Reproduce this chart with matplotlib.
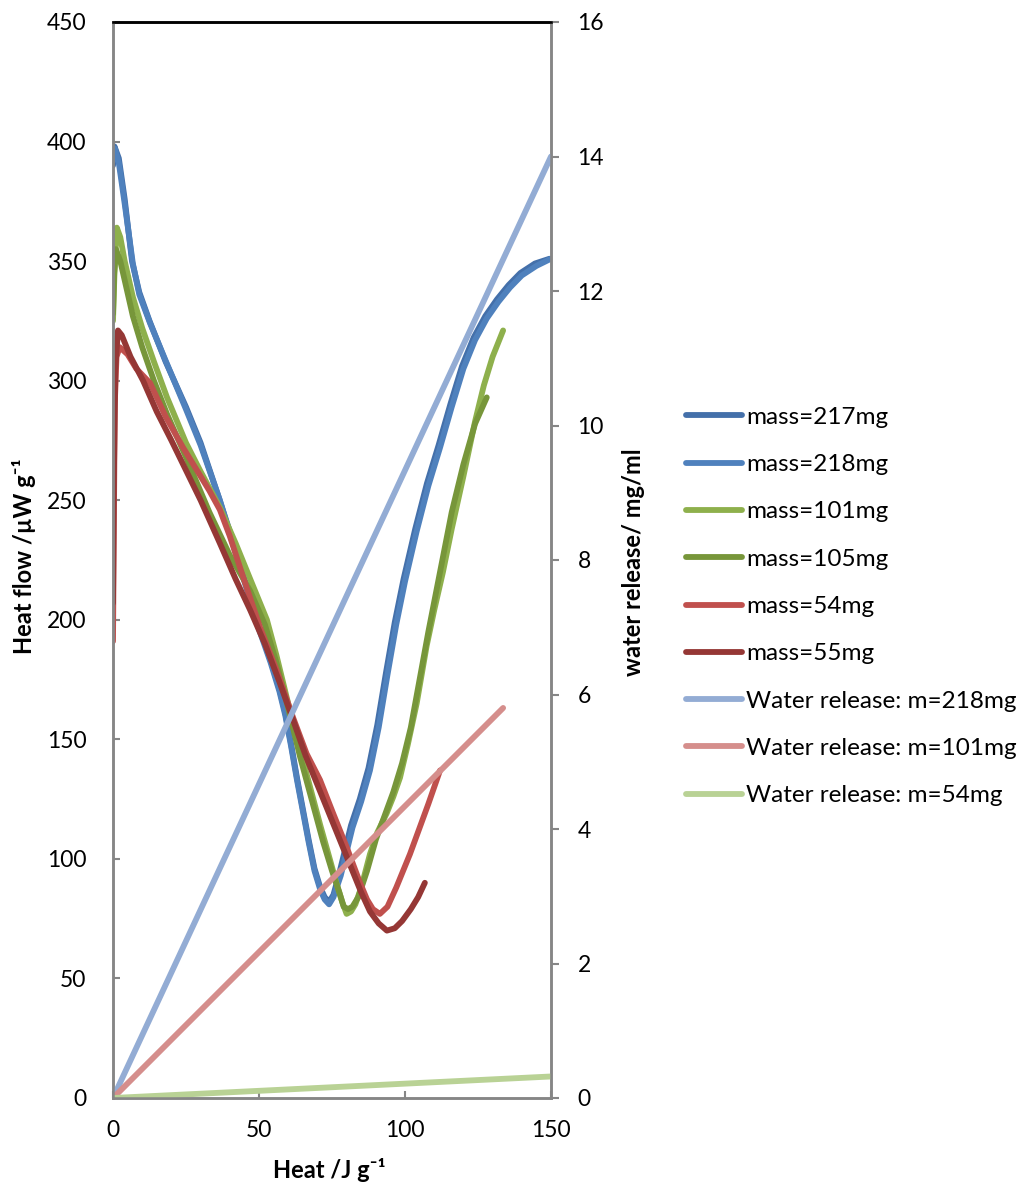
import numpy as np
import matplotlib
matplotlib.use('Agg')
import matplotlib.pyplot as plt
from matplotlib import rc

rc('font', family=['Lato', 'DejaVu Sans'])

# heat flow curves (x = heat / J g-1, y = heat flow / uW g-1)
x217 = [0, 0.5, 2, 4, 6.5, 9, 12.5, 18, 25, 30, 36, 40, 45, 50, 54, 57, 59, 61, 63, 65, 67, 69,
        71, 72.5, 74, 75.5, 77.5, 79.5, 81.5, 84.5, 87.5, 90.5, 93.5, 96.5, 99.5, 103.5, 107.5,
        111.5, 115.5, 119.5, 123.5, 127.5, 131.5, 135.5, 139.5, 144.5, 149.5]
y217 = [390, 398, 393, 376, 350, 337, 325, 308, 289, 274, 252, 237, 217, 197, 183, 171, 161, 148,
        134, 121, 108, 96, 88, 84, 82, 85, 94, 104, 114, 125, 138, 156, 178, 199, 217, 238, 257,
        273, 290, 306, 318, 327, 334, 340, 345, 349, 351]

x218 = [0, 0.7, 2, 4, 6.8, 9, 12.7, 18.5, 25, 30, 36.6, 40, 45, 50, 54, 57, 59, 61, 63, 65, 67,
        69, 71, 72.5, 74, 75.5, 78, 80, 82, 85, 88, 91, 94, 97, 100, 104, 108, 112, 116, 120, 124,
        128, 132, 136, 140, 145, 150]
y218 = [392, 397, 391, 374, 349, 336, 324, 307, 288, 273, 250, 236, 216, 196, 182, 170, 160, 147,
        133, 120, 107, 95, 87, 83, 81, 84, 93, 103, 113, 124, 137, 155, 177, 198, 216, 237, 256,
        272, 289, 305, 317, 326, 333, 339, 344, 348, 351]

x101 = [0, 0.5, 1.3, 2.5, 4, 6.8, 10, 14, 18.5, 25, 30, 36.6, 42, 47, 52.7, 56, 60, 64, 67.5, 71,
        74, 76.5, 78.5, 80, 81.5, 83, 85, 88, 90.5, 93.7, 96, 98.3, 101, 104, 107.4, 110, 113, 116,
        120, 124, 127, 130, 133.6]
y101 = [325, 345, 364, 360, 350, 335, 322, 308, 293, 274, 262, 247, 232, 217, 200, 185, 165, 146,
        130, 114, 101, 90, 82, 77, 78, 81, 88, 102, 111, 119, 126, 134, 148, 165, 189, 204, 220,
        238, 260, 283, 298, 310, 321]

x105 = [0, 0.4, 1, 2.5, 4, 6.8, 10, 14, 18.5, 25, 33, 40, 47, 52, 56, 60, 64, 68, 72, 75, 77.5,
        79, 80.5, 82, 84, 87, 90, 93, 96, 99, 102, 105, 108, 112, 116, 120, 124, 128]
y105 = [328, 345, 355, 350, 342, 327, 314, 300, 286, 268, 245, 227, 212, 198, 182, 163, 143, 125,
        107, 95, 86, 80, 79, 80, 84, 95, 108, 118, 128, 140, 155, 175, 195, 220, 245, 265, 282, 293]

x54 = [0, 0.3, 0.6, 1.2, 2.3, 5, 8, 12.7, 18, 24, 30, 33, 36.6, 40, 44, 47, 50.3, 56, 61.7, 66.3,
       70.9, 75.4, 80, 84.6, 87, 89, 91.4, 94, 97, 101.7, 105, 108, 110, 112]
y54 = [191, 240, 290, 310, 314, 311, 305, 299, 285, 272, 260, 254, 246, 235, 220, 209, 197, 179,
       159, 144, 133, 119, 105, 90, 83, 79, 77, 80, 88, 102, 113, 123, 130, 137]

x55 = [0, 0.3, 0.8, 1.7, 3, 6, 10.3, 15, 20, 24, 30, 36.6, 42, 47, 52, 57, 62, 66, 70, 74, 78, 82,
       85, 88, 91, 93.8, 96.5, 99, 102, 104.5, 106.8]
y55 = [207, 260, 305, 321, 319, 310, 300, 287, 275, 265, 250, 232, 217, 204, 190, 174, 157, 143,
       131, 119, 107, 95, 86, 78, 73, 70, 71, 74, 79, 84, 90]

# water release lines (right axis, mg/ml)
xw218 = [0, 150]
yw218 = [0, 14]
xw101 = [0, 133.6]
yw101 = [0, 5.8]
xw54 = [0, 150]
yw54 = [0, 0.32]

fig = plt.figure(figsize=(10.24, 11.85), dpi=100)
ax = fig.add_axes([113/1024, 1-1098/1185, 438/1024, 1076/1185])
ax2 = ax.twinx()

kw = dict(lw=4.2, solid_capstyle='round', solid_joinstyle='round')
ax.plot(x217, y217, c='#4470AA', label='mass=217mg', **kw)
ax.plot(x218, y218, c='#4F81BD', label='mass=218mg', **kw)
ax.plot(x101, y101, c='#8EB04C', label='mass=101mg', **kw)
ax.plot(x105, y105, c='#77963A', label='mass=105mg', **kw)
ax.plot(x54, y54, c='#C0504D', label='mass=54mg', **kw)
ax.plot(x55, y55, c='#953735', label='mass=55mg', **kw)

ax2.plot(xw218, yw218, c='#93ACD4', label='Water release: m=218mg', **kw)
ax2.plot(xw101, yw101, c='#D58E8C', label='Water release: m=101mg', **kw)
ax2.plot(xw54, yw54, c='#B9D295', label='Water release: m=54mg', **kw)

ax.set_xlim(0, 150)
ax.set_ylim(0, 450)
ax2.set_ylim(0, 16)
ax.set_xticks([0, 50, 100, 150])
ax.set_yticks(np.arange(0, 451, 50))
ax2.set_yticks(np.arange(0, 17, 2))

gray = '#868686'
for a in (ax, ax2):
    for s in ('left', 'right', 'bottom'):
        a.spines[s].set_color(gray)
        a.spines[s].set_linewidth(1.8)
    a.spines['top'].set_color('black')
    a.spines['top'].set_linewidth(1.8)

fnt = 16.5
ax.tick_params(axis='x', direction='in', length=5, width=1.5, color=gray, labelsize=fnt, pad=16)
ax.tick_params(axis='y', direction='in', length=5, width=1.5, color=gray, labelsize=fnt, pad=19)
ax2.tick_params(axis='y', direction='out', length=6, width=1.5, color=gray, labelsize=fnt, pad=13)

lfnt = 17
ax.set_xlabel('Heat /J g\u207b\u00b9', fontsize=lfnt, fontweight='bold')
ax.set_ylabel('Heat flow /\u00b5W g\u207b\u00b9', fontsize=lfnt, fontweight='bold')
ax2.set_ylabel('water release/ mg/ml', fontsize=lfnt, fontweight='bold')
ax.xaxis.set_label_coords(0.493, -0.056)
ax.yaxis.set_label_coords(-0.175, 0.504)
ax2.yaxis.set_label_coords(1.162, 0.498)

h1, l1 = ax.get_legend_handles_labels()
h2, l2 = ax2.get_legend_handles_labels()
fig.legend(h1+h2, l1+l2, loc='center left', bbox_to_anchor=(686/1024, 1-606.5/1185),
           frameon=False, fontsize=17.5, handlelength=2.3, handletextpad=0.17,
           labelspacing=1.08, borderpad=0, borderaxespad=0)

plt.savefig('out.png', dpi=100)
